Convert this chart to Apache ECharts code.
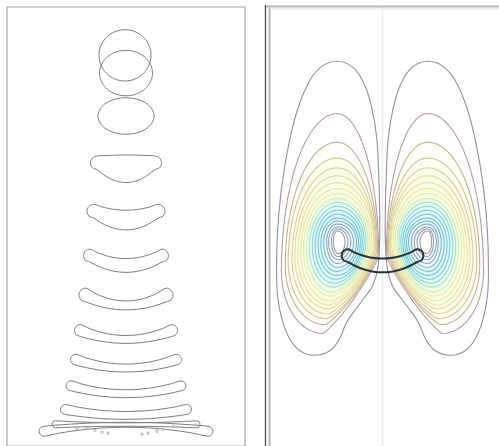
<!DOCTYPE html>
<html>
<head>
<meta charset="utf-8">
<script src="https://cdn.jsdelivr.net/npm/echarts/dist/echarts.min.js"></script>
<style>
  html, body { margin: 0; padding: 0; background: #ffffff; }
  #chart { width: 499px; height: 446px; }
</style>
</head>
<body>
<div id="chart"></div>
<script>
// ---- Left panel: rising bubble outlines (grid units, x from the axis of symmetry, y downward) ----
// Early, near-round bubbles
const ellipseCx = [-1, 0, 0];
const ellipseCy = [49, 67, 110.5];
const ellipseRx = [26, 26.5, 28];
const ellipseRy = [26, 23, 18.5];

// Later cap-shaped bubbles: half width, end-cap centre depth, end-cap radius, top and bottom depth on the axis
const capHalfWidth = [35.5, 39, 42.5, 47, 51.5, 55.5, 60, 65.5, 87, 74];
const capEndY      = [158, 207, 252, 292, 328, 357.5, 384, 408, 430, 423];
const capEndRadius = [7, 7, 6.5, 7, 6, 5.5, 5, 5, 5, 3.5];
const capTopY      = [150, 206, 255, 298, 333, 362, 388, 410, 421, 421.5];
const capBottomY   = [178, 226, 269, 307, 341, 370, 396, 418, 426, 425];

// Satellite droplets shed by the last bubble
const dropX = [-49, -39, -31, -24, -18, 16, 22, 31, 37, 47];
const dropY = [427, 427, 429, 431, 432, 433, 432, 430, 428, 425];

// ---- Right panel: vorticity contours around the bubble (left vortex; right one is its mirror) ----
// outermost contour, traced point by point
const outerContourX = [-47, -31, -19, -11, -6, -4, -3, -3, -5, -10, -19, -30, -38, -44, -54, -70, -85, -96, -104, -109, -110, -109, -106, -100, -91, -79, -64];
const outerContourY = [55, 61, 78, 103, 133, 168, 203, 238, 265, 282, 295, 309, 321, 335, 348, 353, 349, 337, 318, 293, 263, 228, 193, 153, 113, 81, 61];

// inner contours: top, bottom, outer (left) and inner (right) extents,
// depth of the widest point on each side, x of the lowest point, flattening of the lower inner flank
const contourTop     = [108, 137, 153, 163, 171, 178, 184, 189, 194, 198, 202, 206, 210, 214, 217, 220, 223, 225, 227];
const contourBottom  = [331, 322, 316, 311, 306, 302, 298, 293, 289, 284, 280, 276, 272, 268, 264, 260, 256, 253, 250];
const contourLeft    = [-105, -101, -98, -94, -91, -88, -85, -82, -79, -76, -73, -70, -67, -64, -61, -58, -56, -53, -51];
const contourRight   = [-4, -5, -6, -7, -8, -9, -11, -13, -15, -17, -19, -21, -23, -25, -27, -30, -33, -36, -39];
const contourLeftY   = [268, 262, 258, 255, 252, 250, 248, 246, 245, 244, 243, 242, 241, 240, 239, 238, 238, 238, 238];
const contourRightY  = [252, 249, 246, 244, 242, 240, 239, 238, 238, 238, 238, 238, 238, 238, 238, 238, 238, 238, 238];
const contourBottomX = [-62, -60, -58, -57, -56, -55, -54, -53, -52, -51, -50, -49, -48, -48, -47, -47, -46, -46, -46];
const contourFlank   = [1.7, 1.6, 1.5, 1.45, 1.4, 1.35, 1.3, 1.25, 1.2, 1.15, 1.1, 1.05, 1, 1, 1, 1, 1, 1, 1];
const contourTopX    = -47;
const contourColors = ['#9a8a9e', '#b4a09a', '#c4b090', '#d2c294', '#dccf98', '#e3d99e', '#e8e1a3', '#ebe7a8',
                       '#e6ecae', '#d2ecbc', '#a9e2cf', '#8adad8', '#76d2da', '#6ccbd8', '#6cc3d4', '#74bace',
                       '#80b0c4', '#8aa8ba', '#939fb2', '#9a9bac'];
const bandFills     = ['#ffffff', '#ffffff', '#fffef8', '#fdfcef', '#fcfbea', '#fbfbe5', '#fafbe2', '#f8fbe0',
                       '#f4fbe2', '#eefae6', '#e8f8f0', '#e4f6f5', '#e2f5f6', '#e4f5f7', '#e8f5f7', '#eef6f8',
                       '#f3f7f9', '#f8f9fb', '#ffffff', '#ffffff'];

// bubble shown in the right panel (same instant as the third cap above)
const snapshotIndex = 2;

function ellipseOutline(i) {
  const pts = [];
  for (let k = 0; k < 64; k++) {
    const t = (k / 64) * Math.PI * 2;
    pts.push([ellipseCx[i] + ellipseRx[i] * Math.cos(t), ellipseCy[i] + ellipseRy[i] * Math.sin(t)]);
  }
  return pts;
}

function capOutline(i) {
  const w = capHalfWidth[i], r = capEndRadius[i], yE = capEndY[i];
  const yT = capTopY[i], yB = capBottomY[i];
  const a = w - r;
  const s = [-1, -0.8, -0.55, -0.3, 0, 0.3, 0.55, 0.8, 1];
  const pts = [];
  s.forEach(v => pts.push([v * a, yT + (yE - r - yT) * v * v]));
  pts.push([a + r * 0.72, yE - r * 0.7], [w, yE], [a + r * 0.72, yE + r * 0.7]);
  s.slice().reverse().forEach(v => pts.push([v * a, yB + (yE + r - yB) * v * v]));
  pts.push([-a - r * 0.72, yE + r * 0.7], [-w, yE], [-a - r * 0.72, yE - r * 0.7]);
  return pts;
}

function contourOutline(i, side) {
  const pts = [];
  if (i === 0) {
    for (let k = 0; k < outerContourX.length; k++) pts.push([side * outerContourX[k], outerContourY[k]]);
    return pts;
  }
  const j = i - 1;
  const T = contourTop[j], B = contourBottom[j], L = contourLeft[j], R = contourRight[j];
  const yl = contourLeftY[j], yr = contourRightY[j], cx = contourTopX, bx = contourBottomX[j];
  const p = contourFlank[j];
  const n = 16;
  for (let k = 0; k < n; k++) { const t = k / n * Math.PI / 2; pts.push([cx - (cx - L) * Math.cos(t), yl - (yl - T) * Math.sin(t)]); }
  for (let k = 0; k < n; k++) { const t = k / n * Math.PI / 2; pts.push([cx + (R - cx) * Math.sin(t), yr - (yr - T) * Math.cos(t)]); }
  for (let k = 0; k < n; k++) {
    const t = k / n * Math.PI / 2;
    pts.push([bx + (R - bx) * Math.pow(Math.cos(t), p), yr + (B - yr) * Math.pow(Math.sin(t), p)]);
  }
  for (let k = 0; k < n; k++) { const t = k / n * Math.PI / 2; pts.push([bx - (bx - L) * Math.sin(t), yl + (B - yl) * Math.cos(t)]); }
  return pts.map(q => [side * q[0], q[1]]);
}

function outlineItem(pts, api, stroke, width, smooth, fill) {
  return {
    type: 'polygon',
    shape: { points: pts.map(q => api.coord(q)), smooth: smooth },
    style: { fill: fill || 'none', stroke: stroke, lineWidth: width }
  };
}

// outer levels first so that each inner band paints over the one around it
const contourItems = [];
for (let i = 0; i < contourColors.length; i++) { contourItems.push([i, -1]); contourItems.push([i, 1]); }

const chart = echarts.init(document.getElementById('chart'), null, { renderer: 'canvas' });
chart.setOption({
  animation: false,
  backgroundColor: '#ffffff',
  grid: [
    { left: 7, top: 7, width: 238, height: 445, show: true, borderColor: '#a4a4a4', borderWidth: 1.2, backgroundColor: 'transparent' },
    { left: 266, top: 7, width: 242, height: 445, show: false }
  ],
  xAxis: [
    { gridIndex: 0, type: 'value', min: -119, max: 119, show: false },
    { gridIndex: 1, type: 'value', min: -121, max: 121, show: false }
  ],
  yAxis: [
    { gridIndex: 0, type: 'value', min: 0, max: 445, inverse: true, show: false },
    { gridIndex: 1, type: 'value', min: 0, max: 445, inverse: true, show: false }
  ],
  graphic: [
    { type: 'line', z: 100, shape: { x1: 265.5, y1: 5, x2: 265.5, y2: 446 }, style: { stroke: '#4a4a4a', lineWidth: 1.3 } },
    { type: 'line', z: 100, shape: { x1: 266, y1: 6.5, x2: 499, y2: 6.5 }, style: { stroke: '#b4b4b4', lineWidth: 2 } },
    { type: 'line', z: 100, shape: { x1: 269.5, y1: 8, x2: 269.5, y2: 446 }, style: { stroke: '#b4b4b4', lineWidth: 2 } },
    { type: 'line', z: 100, shape: { x1: 270, y1: 9, x2: 499, y2: 9 }, style: { stroke: '#e2e2e2', lineWidth: 1 } }
  ],
  series: [
    {
      type: 'custom', xAxisIndex: 0, yAxisIndex: 0,
      data: ellipseCx.map((_, i) => [i]),
      renderItem: (params, api) => outlineItem(ellipseOutline(params.dataIndex), api, '#7c7c7c', 1, 0)
    },
    {
      type: 'custom', xAxisIndex: 0, yAxisIndex: 0,
      data: capHalfWidth.map((_, i) => [i]),
      renderItem: (params, api) => outlineItem(capOutline(params.dataIndex), api, '#7c7c7c', 1, 0.35)
    },
    {
      type: 'scatter', xAxisIndex: 0, yAxisIndex: 0,
      data: dropX.map((x, i) => [x, dropY[i]]),
      symbol: 'circle', symbolSize: 2.5,
      itemStyle: { color: '#ffffff', borderColor: '#888888', borderWidth: 0.8 }
    },
    {
      type: 'custom', xAxisIndex: 1, yAxisIndex: 1,
      data: contourItems,
      renderItem: (params, api) => {
        const it = contourItems[params.dataIndex];
        return outlineItem(contourOutline(it[0], it[1]), api, contourColors[it[0]], 1.1,
                           it[0] === 0 ? 0.4 : 0, bandFills[it[0]]);
      }
    },
    {
      type: 'line', xAxisIndex: 1, yAxisIndex: 1, z: 3,
      data: [[0, 0], [0, 445]], symbol: 'none',
      lineStyle: { color: '#ececec', width: 1.5 }
    },
    {
      type: 'custom', xAxisIndex: 1, yAxisIndex: 1, z: 4,
      data: [[snapshotIndex]],
      renderItem: (params, api) => outlineItem(capOutline(snapshotIndex), api, '#263636', 2, 0.35)
    }
  ]
});
</script>
</body>
</html>
